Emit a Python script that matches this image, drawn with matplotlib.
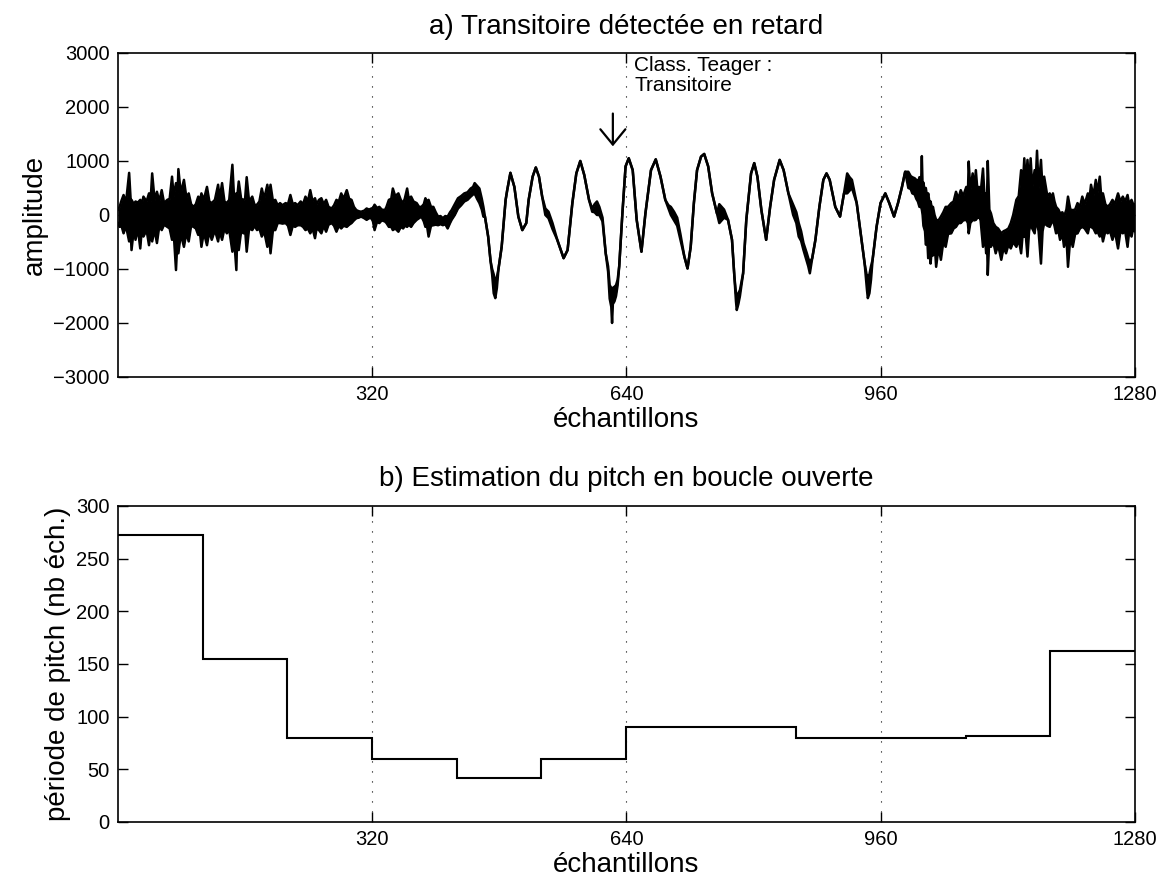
import matplotlib
matplotlib.use("Agg")
import matplotlib.pyplot as plt

plt.rcParams["font.family"] = ["Liberation Sans", "DejaVu Sans"]

# signal trace: sample index, upper and lower edge of the drawn waveform
# (noisy stretches alternate spike tips with the dense core of the band)
noise_a_x = [
    0, 2, 4, 7, 10, 14, 16, 17, 20, 22,
    25, 28, 30, 32, 36, 39, 41, 43, 46, 49,
    52, 55, 58, 62, 65, 68, 70, 73, 75, 76,
    79, 83, 86, 89, 92, 95, 98, 101, 103, 105,
    108, 112, 115, 118, 122, 126, 128, 131, 134, 137,
    140, 144, 146, 149, 150, 152, 155, 158, 160, 162,
    165, 169, 172, 175, 178, 181, 184, 188, 190, 192,
    195, 198, 201, 204, 207, 211, 214, 217, 220, 223,
    226, 230, 233, 236, 239, 242, 245, 248, 250, 253,
    256, 259, 262, 265, 269, 272, 275, 278, 281, 284,
    288, 291, 294, 297, 300, 303, 306, 310, 313, 316,
    319, 321, 323, 326, 329, 332, 336, 338, 341, 344,
    346, 349, 353, 356, 359, 361, 364, 366, 369, 372,
    376, 379, 382, 385, 387, 389, 391, 394, 397, 400,
    403, 406, 409, 412, 415, 418, 420, 424, 428, 432,
    436, 440, 444, 447, 449, 452, 455, 458, 460,
]
noise_a_hi = [
    100, 150, 250, 370, 220, 780, 260, 280, 200, 250,
    230, 280, 200, 340, 250, 400, 260, 770, 280, 430,
    250, 460, 220, 280, 300, 710, 350, 590, 400, 850,
    400, 650, 330, 400, 200, 150, 200, 340, 250, 400,
    280, 520, 250, 220, 280, 560, 300, 590, 250, 220,
    280, 930, 350, 400, 320, 620, 300, 280, 300, 700,
    250, 340, 180, 190, 250, 490, 300, 560, 330, 560,
    260, 280, 180, 220, 180, 220, 200, 370, 200, 220,
    180, 250, 200, 340, 250, 460, 250, 310, 200, 280,
    310, 200, 280, 150, 120, 180, 280, 250, 400, 300,
    460, 300, 280, 150, 90, 70, 60, 80, 120, 100,
    120, 130, 190, 130, 150, 100, 90, 150, 280, 300,
    490, 350, 400, 280, 220, 300, 490, 300, 340, 250,
    220, 150, 150, 200, 310, 250, 280, 150, 150, 50,
    -30, -20, -60, -20, -30, 50, 90, 200, 310, 350,
    400, 420, 490, 520, 590, 540, 490, 300, 150,
]
noise_a_lo = [
    -150, -220, -180, -340, -200, -490, -300, -650, -250, -460,
    -250, -620, -250, -400, -280, -560, -300, -490, -270, -520,
    -200, -280, -180, -220, -250, -460, -300, -1020, -380, -710,
    -350, -590, -330, -490, -200, -220, -250, -370, -300, -590,
    -320, -560, -300, -460, -280, -490, -300, -460, -250, -340,
    -270, -680, -400, -1020, -380, -650, -300, -340, -260, -680,
    -250, -280, -200, -280, -250, -400, -300, -590, -350, -710,
    -280, -280, -150, -150, -160, -150, -200, -370, -200, -220,
    -190, -190, -220, -280, -250, -340, -250, -430, -250, -280,
    -340, -200, -310, -180, -150, -200, -310, -200, -250, -200,
    -220, -180, -150, -100, -60, -50, -30, -60, -90, -60,
    -60, -120, -280, -130, -150, -100, -120, -150, -220, -220,
    -280, -250, -310, -220, -250, -200, -220, -180, -220, -150,
    -90, -60, -30, -120, -220, -200, -400, -200, -190, -180,
    -190, -170, -190, -170, -250, -150, -90, 0, 120, 180,
    250, 280, 340, 380, 400, 300, 220, 100, -30,
]

# voiced stretch: mostly a single line, a little noise at some troughs
voiced_x = [
    462, 466, 469, 471, 473, 475, 477, 479, 483, 488,
    490, 494, 499, 504, 509, 514, 517, 522, 526, 530,
    534, 538, 542, 547, 553, 561, 566, 572, 577, 582,
    587, 593, 597, 600, 603, 606, 610, 614, 617, 619,
    621, 622, 623, 625, 627, 629, 631, 635, 639, 643,
    648, 653, 659, 664, 671, 677, 683, 689, 693, 696,
    700, 704, 708, 713, 717, 721, 725, 729, 734, 738,
    743, 748, 754, 757, 760, 763, 768, 773, 776, 778,
    779, 781, 783, 787, 791, 797, 801, 805, 810, 816,
    821, 826, 833, 838, 844, 850, 854, 857, 860, 863,
    867, 869, 871, 874, 878, 883, 888, 892, 896, 903,
    909, 914, 918, 921, 924, 930, 935, 940, 943, 944,
    946, 948, 950, 955, 960, 966, 971, 977, 982, 987,
    991,
]
voiced_hi = [
    -30, -400, -850, -1000, -1100, -1250, -1150, -1000, -590, 280,
    460, 780, 520, -30, -280, -150, 280, 710, 880, 710,
    340, 120, 60, -150, -460, -800, -650, 220, 770, 1000,
    740, 280, 120, 200, 250, 150, -50, -710, -950, -1300,
    -1350, -1400, -1350, -1330, -1300, -1200, -950, 30, 900, 1050,
    830, -90, -680, 30, 830, 1030, 710, 280, 180, 150,
    60, -50, -350, -770, -990, -590, 220, 830, 1080, 1130,
    900, 400, 30, 200, 150, 100, -90, -460, -1140, -1450,
    -1500, -1450, -1390, -1080, -90, 770, 960, 710, 90, -460,
    150, 650, 1020, 830, 400, 190, 50, -150, -300, -520,
    -700, -800, -880, -800, -460, 150, 650, 770, 650, 150,
    -30, 400, 770, 700, 650, 220, -340, -900, -1150, -1150,
    -1100, -950, -830, -220, 220, 400, 220, -30, 220, 520,
    800,
]
voiced_lo = [
    -30, -400, -850, -1100, -1450, -1540, -1350, -1000, -590, 280,
    460, 780, 520, -30, -280, -150, 280, 710, 880, 710,
    340, 0, -60, -260, -460, -800, -650, 220, 770, 1000,
    740, 280, 60, 50, 0, 0, -120, -710, -1050, -1550,
    -1700, -2000, -1650, -1600, -1500, -1300, -950, 30, 900, 1050,
    830, -90, -680, 30, 830, 1030, 710, 280, 120, 0,
    -100, -200, -450, -770, -990, -590, 220, 830, 1080, 1130,
    900, 400, 30, -150, -100, -50, -90, -460, -1140, -1600,
    -1760, -1650, -1500, -1080, -90, 770, 960, 710, 90, -460,
    150, 650, 1020, 830, 400, 0, -150, -400, -480, -650,
    -850, -950, -1080, -800, -460, 150, 650, 770, 650, 150,
    -30, 400, 400, 450, 500, 220, -340, -900, -1400, -1540,
    -1450, -1200, -830, -220, 220, 400, 220, -30, 220, 520,
    800,
]

noise_b_x = [
    995, 998, 1000, 1003, 1005, 1007, 1009, 1011, 1012, 1013,
    1014, 1016, 1017, 1019, 1020, 1022, 1023, 1025, 1026, 1028,
    1030, 1033, 1036, 1039, 1042, 1045, 1049, 1052, 1055, 1058,
    1061, 1064, 1068, 1070, 1071, 1073, 1076, 1078, 1080, 1082,
    1084, 1086, 1089, 1091, 1093, 1094, 1095, 1097, 1099, 1102,
    1105, 1108, 1112, 1115, 1118, 1121, 1124, 1127, 1131, 1134,
    1137, 1139, 1141, 1143, 1145, 1147, 1149, 1151, 1154, 1155,
    1157, 1159, 1162, 1164, 1166, 1170, 1173, 1175, 1177, 1179,
    1181, 1184, 1186, 1189, 1191, 1194, 1196, 1199, 1202, 1205,
    1208, 1211, 1214, 1217, 1221, 1223, 1225, 1228, 1231, 1233,
    1236, 1238, 1240, 1243, 1246, 1249, 1252, 1255, 1259, 1262,
    1265, 1268, 1271, 1273, 1276, 1278, 1280,
]
noise_b_hi = [
    800, 720, 700, 680, 650, 600, 700, 550, 1090, 500,
    600, 400, 500, 300, 400, 200, 250, 100, 150, 0,
    -90, -100, -30, 50, 150, 150, 220, 250, 430, 300,
    460, 350, 520, 400, 990, 450, 770, 450, 830, 450,
    520, 400, 860, 300, 400, 250, 1000, 100, 30, -150,
    -220, -250, -340, -300, -280, -250, -150, 0, 280, 350,
    830, 500, 1050, 500, 1020, 500, 1050, 500, 830, 500,
    1190, 500, 1020, 450, 710, 350, 400, 300, 400, 250,
    150, 100, 30, 50, -30, 100, 340, 100, 90, 100,
    220, 150, 340, 200, 400, 300, 560, 350, 650, 400,
    710, 300, 400, 200, 150, 200, 280, 200, 400, 250,
    340, 250, 370, 200, 280, 200, 200,
]
noise_b_lo = [
    500, 480, 400, 380, 300, 250, 150, 150, 100, 0,
    -200, -300, -550, -500, -800, -550, -900, -550, -750, -500,
    -960, -600, -830, -500, -590, -350, -340, -250, -220, -150,
    -150, -100, -90, -150, -340, -150, -90, -100, -90, -50,
    -30, -100, -590, -300, -710, -400, -1110, -400, -590, -500,
    -710, -550, -830, -600, -710, -550, -620, -500, -590, -450,
    -710, -350, -400, -400, -770, -300, -150, -250, -340, -200,
    -150, -300, -900, -300, -150, -200, -220, -150, -90, -200,
    -340, -300, -460, -350, -590, -400, -960, -400, -590, -350,
    -340, -250, -220, -250, -340, -200, -220, -250, -340, -300,
    -400, -300, -490, -300, -340, -300, -460, -300, -620, -300,
    -340, -300, -590, -300, -400, -250, -300,
]

wave_x = noise_a_x + voiced_x + noise_b_x
wave_hi = noise_a_hi + voiced_hi + noise_b_hi
wave_lo = noise_a_lo + voiced_lo + noise_b_lo
assert len(wave_x) == len(wave_hi) == len(wave_lo)

# open-loop pitch estimate, one value per frame
frame_edges = [0, 107, 213, 320, 427, 533, 640, 747, 853, 960, 1067, 1173, 1280]
pitch = [272, 155, 80, 60, 42, 60, 90, 90, 80, 80, 82, 162]

x_ticks = [320, 640, 960, 1280]
detect_at = 623

fig = plt.figure(figsize=(11.65, 8.92), dpi=100)
ax1 = fig.add_axes([0.1013, 0.5774, 0.8727, 0.3632])
ax2 = fig.add_axes([0.1013, 0.0785, 0.8727, 0.3543])

for ax in (ax1, ax2):
    ax.set_xlim(0, 1280)
    ax.set_xticks(x_ticks)
    for xv in x_ticks[:-1]:
        ax.axvline(xv, color="k", lw=0.8, linestyle=(0, (1, 8)), zorder=0)
    ax.tick_params(direction="in", top=True, right=True, length=7, width=1,
                   labelsize=14.5, pad=6)
    for sp in ax.spines.values():
        sp.set_linewidth(1.2)
    ax.set_xlabel("échantillons", fontsize=20, labelpad=2)

# a) waveform
ax1.fill_between(wave_x, wave_lo, wave_hi, color="k", lw=0)
ax1.plot(wave_x, wave_hi, color="k", lw=1.8)
ax1.plot(wave_x, wave_lo, color="k", lw=1.8)
ax1.set_ylim(-3000, 3000)
ax1.set_yticks(range(-3000, 3001, 1000))
ax1.set_ylabel("amplitude", fontsize=20)
ax1.set_title("a) Transitoire détectée en retard", fontsize=20, pad=14)
ax1.text(650, 2950, "Class. Teager :\nTransitoire", fontsize=15, va="top",
         ha="left", linespacing=1.1)
ax1.annotate("", xy=(detect_at, 1220), xytext=(detect_at, 1930),
             arrowprops=dict(arrowstyle="->,head_length=0.55,head_width=0.45",
                             color="k", lw=1.6, mutation_scale=20))

# b) pitch period
ax2.stairs(pitch, frame_edges, color="k", lw=1.5, baseline=None)
ax2.set_ylim(0, 300)
ax2.set_yticks(range(0, 301, 50))
ax2.set_ylabel("période de pitch (nb éch.)", fontsize=20)
ax2.set_title("b) Estimation du pitch en boucle ouverte", fontsize=20, pad=14)

fig.savefig("out.png", dpi=100)
